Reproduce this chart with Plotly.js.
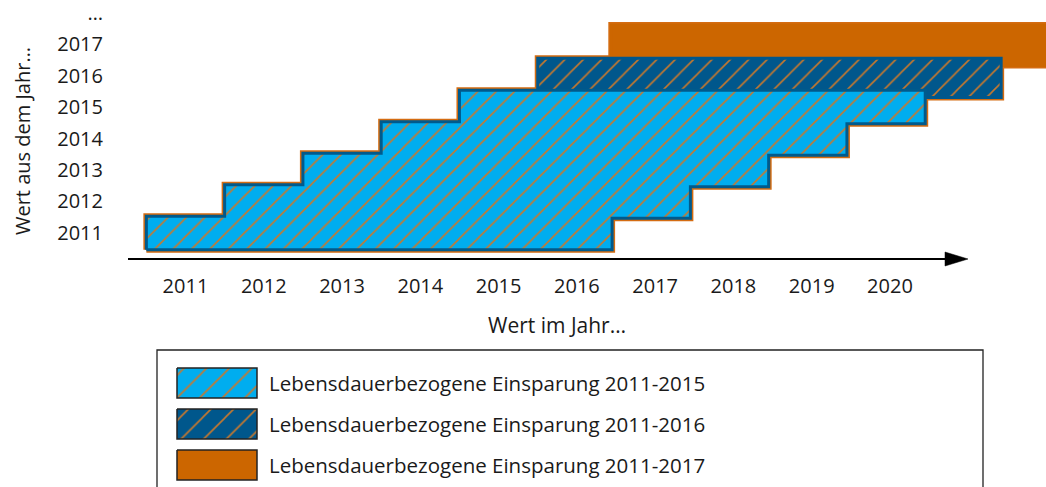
<!DOCTYPE html>
<html>
<head>
<meta charset="utf-8">
<script src="https://cdn.plot.ly/plotly-3.0.1.min.js"></script>
<style>html,body{margin:0;padding:0;background:#fff;}#chart{width:1046px;height:487px;}</style>
</head>
<body>
<div id="chart"></div>
<script>
// ---- data ----
const xYears = [2011, 2012, 2013, 2014, 2015, 2016, 2017, 2018, 2019, 2020];
const yTickVals = [2011, 2012, 2013, 2014, 2015, 2016, 2017, 2018];
const yTickText = ['2011', '2012', '2013', '2014', '2015', '2016', '2017', '…'];
// one row per year of origin: the saving of that year is valid from firstYear to lastYear
const rowYear      = [2011, 2012, 2013, 2014, 2015, 2016, 2017];
const rowFirstYear = [2011, 2012, 2013, 2014, 2015, 2016, 2017];
const rowLastYear  = [2016, 2017, 2018, 2019, 2020, 2021, 2022];
const rowSeries    = [0, 0, 0, 0, 0, 1, 2];
const seriesNames = [
  'Lebensdauerbezogene Einsparung 2011-2015',
  'Lebensdauerbezogene Einsparung 2011-2016',
  'Lebensdauerbezogene Einsparung 2011-2017'
];
const xTitle = 'Wert im Jahr…';
const yTitle = 'Wert aus dem Jahr…';

// ---- styles ----
const W = 1046, H = 487;
const FONT = 'Open Sans, Noto Sans, sans-serif';
const TXT = '#1a1a1a';
const ORANGE = '#cc6600';
const OUTLINE_OR = '#d46c12';
const HATCH = '#c8782d';
const seriesStyle = [
  {bg: '#00adef', border: '#005a8c', pattern: true,  up: 0.53, down: 0.53, left: 0.5,  right: 0.45},
  {bg: '#00578c', border: '#00578c', pattern: true,  up: 0.55, down: 0.7,  left: 0.5,  right: 0.42},
  {bg: ORANGE,    border: ORANGE,    pattern: false, up: 0.6,  down: 0.68, left: 0.56, right: 0.5}
];
const px = x => x / W;          // pixel -> paper
const py = y => 1 - y / H;

function seriesPolygon(s) {
  const idx = rowSeries.map((v, i) => v === s ? i : -1).filter(i => i >= 0);
  const st = seriesStyle[s];
  const r = idx.map(i => rowYear[i]), f = idx.map(i => rowFirstYear[i]), l = idx.map(i => rowLastYear[i]);
  const n = r.length, xs = [], ys = [];
  const P = (x, y) => { xs.push(x); ys.push(y); };
  P(f[0] - st.left, r[0] - st.down);
  for (let i = 0; i < n; i++) {
    P(f[i] - st.left, r[i] + st.up);
    if (i < n - 1) P(f[i + 1] - st.left, r[i] + st.up);
  }
  P(l[n - 1] + st.right, r[n - 1] + st.up);
  for (let i = n - 1; i >= 0; i--) {
    P(l[i] + st.right, r[i] - (i > 0 ? st.up : st.down));
    if (i > 0) P(l[i - 1] + st.right, r[i] - st.up);
  }
  P(xs[0], ys[0]);
  return {x: xs, y: ys};
}

const traces = [];
const order = [2, 1, 0];
// orange outer outlines first
order.forEach(s => {
  const p = seriesPolygon(s);
  traces.push({type: 'scatter', mode: 'lines', x: p.x, y: p.y, xaxis: 'x', yaxis: 'y',
    line: {color: OUTLINE_OR, width: 6}, hoverinfo: 'skip', showlegend: false});
});
// fills
order.forEach(s => {
  const p = seriesPolygon(s);
  const st = seriesStyle[s];
  const t = {type: 'scatter', mode: 'lines', x: p.x, y: p.y, xaxis: 'x', yaxis: 'y',
    fill: 'toself', fillcolor: st.bg, line: {color: st.border, width: 3},
    name: seriesNames[s], showlegend: false, hoverinfo: 'name'};
  if (st.pattern) t.fillpattern = {shape: '/', bgcolor: st.bg, fgcolor: HATCH, size: 13, solidity: 0.12};
  traces.push(t);
});

// legend drawn in its own small subplot (units = pixels inside the legend box)
const LBX0 = 157, LBX1 = 983, LBY0 = 350;
const annotations = [];
seriesNames.forEach((name, s) => {
  const st = seriesStyle[s];
  const cy = 33 + 41 * s;
  const t = {type: 'scatter', mode: 'lines', xaxis: 'x2', yaxis: 'y2',
    x: [20, 100, 100, 20, 20], y: [cy - 15, cy - 15, cy + 15, cy + 15, cy - 15],
    fill: 'toself', fillcolor: st.bg, line: {color: '#222', width: 1.5},
    name: name, showlegend: false, hoverinfo: 'name'};
  if (st.pattern) t.fillpattern = {shape: '/', bgcolor: st.bg, fgcolor: HATCH, size: 16, solidity: 0.1};
  traces.push(t);
  annotations.push({xref: 'x2', yref: 'y2', x: 110, y: cy, text: name, showarrow: false,
    xanchor: 'left', yanchor: 'middle', font: {family: FONT, size: 20.5, color: TXT}});
});

annotations.push({xref: 'paper', yref: 'paper', x: px(557), y: py(325), text: xTitle, showarrow: false,
  xanchor: 'center', yanchor: 'middle', font: {family: FONT, size: 21, color: TXT}});
annotations.push({xref: 'paper', yref: 'paper', x: px(22), y: py(141), text: yTitle, showarrow: false,
  textangle: -90, xanchor: 'center', yanchor: 'middle', font: {family: FONT, size: 20, color: TXT}});

const shapes = [
  {type: 'line', xref: 'paper', yref: 'paper', x0: px(128), x1: px(947), y0: py(259), y1: py(259),
    line: {color: '#000', width: 2}},
  {type: 'path', xref: 'paper', yref: 'paper',
    path: `M${px(945)},${py(252)} L${px(968)},${py(259)} L${px(945)},${py(266)} Z`,
    fillcolor: '#000', line: {color: '#000', width: 0.5}},
  {type: 'path', xref: 'paper', yref: 'paper',
    path: `M${px(LBX0)},${py(H + 5)} L${px(LBX0)},${py(LBY0)} L${px(LBX1)},${py(LBY0)} L${px(LBX1)},${py(H + 5)}`,
    line: {color: '#222', width: 1.3}}
];

const layout = {
  width: W, height: H,
  margin: {l: 0, r: 0, t: 0, b: 0},
  paper_bgcolor: '#fff', plot_bgcolor: 'rgba(0,0,0,0)',
  showlegend: false,
  font: {family: FONT, size: 20, color: TXT},
  xaxis: {domain: [px(128), 1], range: [2010.2655, 2021.993], tickvals: xYears,
    ticktext: xYears.map(String), showgrid: false, zeroline: false, showline: false,
    ticks: '', ticklabelstandoff: 10, ticklabeloverflow: 'allow', fixedrange: true,
    tickfont: {family: FONT, size: 20, color: TXT}},
  yaxis: {domain: [1 - 262 / H, 1], range: [2010.079, 2018.397], tickvals: yTickVals, ticktext: yTickText,
    showgrid: false, zeroline: false, showline: false, ticks: '', ticklabelstandoff: 24,
    ticklabeloverflow: 'allow', fixedrange: true, tickfont: {family: FONT, size: 20, color: TXT}},
  xaxis2: {domain: [px(LBX0), px(LBX1)], range: [0, LBX1 - LBX0], visible: false, fixedrange: true, anchor: 'y2'},
  yaxis2: {domain: [0, (H - LBY0) / H], range: [H - LBY0, 0], visible: false, fixedrange: true, anchor: 'x2'},
  shapes: shapes,
  annotations: annotations
};

Plotly.newPlot('chart', traces, layout, {displayModeBar: false, staticPlot: true});
</script>
</body>
</html>
